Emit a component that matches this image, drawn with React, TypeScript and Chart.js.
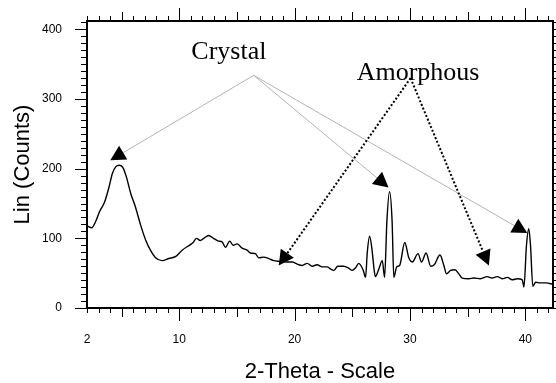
import React, { useEffect, useRef } from "react";
import { Chart, registerables } from "chart.js";

Chart.register(...registerables);

// ---- data (2-Theta in degrees, intensity in counts) ----
const twoTheta = [
  2.0, 2.4, 2.8, 3.1, 3.5, 3.9, 4.2, 4.5, 4.8, 5.1, 5.4, 5.8, 6.2, 6.65, 7.1, 7.5, 7.95, 8.5, 9.1, 9.7,
  10.25, 10.96, 11.2, 11.48, 11.83, 12.12, 12.55, 12.98, 13.42, 13.71, 14.0, 14.37, 14.67, 15.01, 15.45,
  15.88, 16.17, 16.6, 16.89, 17.32, 17.76, 18.19, 18.7, 19.3, 19.79, 20.22, 20.65, 21.09, 21.52, 21.95,
  22.39, 22.82, 23.11, 23.4, 23.74, 24.26, 24.7, 24.99, 25.3, 25.56, 25.95, 26.15, 26.3, 26.5, 26.7, 26.9,
  27.0, 27.3, 27.6, 27.8, 28.0, 28.23, 28.45, 28.6, 28.85, 29.1, 29.55, 29.9, 30.2, 30.7, 31.0, 31.4, 31.8,
  32.1, 32.6, 32.94, 33.17, 33.52, 33.9, 34.24, 34.53, 35.1, 35.54, 36.1, 36.7, 37.1, 37.57, 38.0, 38.44,
  38.87, 39.31, 39.74, 39.88, 40.1, 40.3, 40.45, 40.65, 40.9, 41.3, 41.8, 42.4,
];
const counts = [
  118, 115, 126, 139, 151, 173, 193, 203, 205, 202, 189, 164, 145, 119, 97, 83, 72, 68, 71, 74,
  83, 91, 94, 100, 97, 100, 104, 100, 96, 95, 87, 96, 90, 92, 86,
  83, 79, 78, 72, 73, 71, 68, 67, 66, 66, 63, 61, 64, 60, 62,
  59, 59, 56, 54, 60, 60, 57, 54, 58, 64, 54, 44, 80, 103, 85, 54,
  45, 56, 68, 44, 125, 167, 125, 44, 59, 61, 94, 72, 66, 78, 66, 79, 60,
  62, 76, 61, 49, 54, 55, 49, 43, 42, 43, 42, 45, 43, 45, 42, 44,
  40.5, 42, 40.5, 30, 90, 114, 90, 31, 37, 36, 36, 34,
];

const xTickValues = [2, 10, 20, 30, 40];
const yTickValues = [0, 100, 200, 300, 400];
const X_MIN = 2;
const X_MAX = 42.4;
const Y_MIN = 0;
const Y_MAX = 412;

// ---- annotations (data coordinates) ----
const crystalText = "Crystal";
const crystalTextPos = [14.3, 358];
const crystalApex = [16.45, 334];
const crystalTipsX = [4.02, 28.14, 40.17];
const crystalTipsY = [212, 173, 107.5];

const amorphousText = "Amorphous";
const amorphousTextPos = [30.7, 327];
const amorphousApex = [30.05, 330];
const amorphousTipsX = [18.62, 36.84];
const amorphousTipsY = [61, 61];

const SANS = "'Liberation Sans', Arial, sans-serif";
const SERIF = "'Liberation Serif', 'Times New Roman', serif";

function drawArrow(
  ctx: CanvasRenderingContext2D,
  x0: number, y0: number, x1: number, y1: number,
  color: string, width: number, dash: number[]
) {
  const ang = Math.atan2(y1 - y0, x1 - x0);
  const L = 15, W = 8;
  const c = Math.cos(ang), s = Math.sin(ang);
  const bx = x1 - L * c, by = y1 - L * s;
  ctx.save();
  ctx.strokeStyle = color;
  ctx.lineWidth = width;
  ctx.setLineDash(dash);
  ctx.beginPath();
  ctx.moveTo(x0, y0);
  ctx.lineTo(bx, by);
  ctx.stroke();
  ctx.setLineDash([]);
  ctx.fillStyle = "#000";
  ctx.beginPath();
  ctx.moveTo(x1, y1);
  ctx.lineTo(bx - W * s, by + W * c);
  ctx.lineTo(bx + W * s, by - W * c);
  ctx.closePath();
  ctx.fill();
  ctx.restore();
}

const decorPlugin = {
  id: "decor",
  afterDatasetsDraw(chart: any) {
    const { ctx, chartArea: a, scales } = chart;
    const x = scales.x, y = scales.y;
    ctx.save();
    // tick marks
    ctx.strokeStyle = "#000";
    ctx.lineWidth = 1;
    ctx.beginPath();
    for (let v = 2; v <= 42; v++) {
      const px = Math.round(x.getPixelForValue(v)) + 0.5;
      const len = v % 10 === 0 ? 13 : v % 5 === 0 ? 9 : 5;
      ctx.moveTo(px, a.bottom);
      ctx.lineTo(px, a.bottom + len);
      ctx.moveTo(px, a.top);
      ctx.lineTo(px, a.top - len);
    }
    for (let v = 0; v <= 410; v += 10) {
      const py = Math.round(y.getPixelForValue(v)) + 0.5;
      const len = v % 100 === 0 ? 12 : 6;
      ctx.moveTo(a.left - len, py);
      ctx.lineTo(a.left, py);
      ctx.moveTo(a.right, py);
      ctx.lineTo(a.right + 3, py);
    }
    ctx.stroke();
    // frame
    ctx.lineWidth = 2;
    ctx.strokeRect(a.left, a.top, a.right - a.left, a.bottom - a.top);

    // Crystal annotation
    const cax = x.getPixelForValue(crystalApex[0]);
    const cay = y.getPixelForValue(crystalApex[1]);
    crystalTipsX.forEach((tx, i) => {
      drawArrow(ctx, cax, cay, x.getPixelForValue(tx), y.getPixelForValue(crystalTipsY[i]), "#b4b4b4", 1, []);
    });
    // Amorphous annotation
    const aax = x.getPixelForValue(amorphousApex[0]);
    const aay = y.getPixelForValue(amorphousApex[1]);
    amorphousTipsX.forEach((tx, i) => {
      drawArrow(ctx, aax, aay, x.getPixelForValue(tx), y.getPixelForValue(amorphousTipsY[i]), "#000", 2, [2, 2]);
    });

    ctx.fillStyle = "#000";
    ctx.font = `26px ${SERIF}`;
    ctx.textAlign = "center";
    ctx.textBaseline = "alphabetic";
    ctx.fillText(crystalText, x.getPixelForValue(crystalTextPos[0]), y.getPixelForValue(crystalTextPos[1]));
    ctx.fillText(amorphousText, x.getPixelForValue(amorphousTextPos[0]), y.getPixelForValue(amorphousTextPos[1]));
    ctx.restore();
  },
};

export default function App() {
  const ref = useRef<HTMLCanvasElement | null>(null);
  useEffect(() => {
    if (!ref.current) return;
    const points = twoTheta.map((t, i) => ({ x: t, y: counts[i] }));
    const chart = new Chart(ref.current, {
      type: "line",
      data: {
        datasets: [
          {
            label: "XRD",
            data: points,
            borderColor: "#000",
            borderWidth: 1.4,
            pointRadius: 0,
            cubicInterpolationMode: "monotone",
            fill: false,
          },
        ],
      },
      options: {
        animation: false,
        responsive: false,
        layout: { padding: { top: 21, right: 3, left: 0, bottom: 0 } },
        plugins: { legend: { display: false }, tooltip: { enabled: false } },
        scales: {
          x: {
            type: "linear",
            min: X_MIN,
            max: X_MAX,
            afterBuildTicks: (s: any) => {
              s.ticks = xTickValues.map((v) => ({ value: v }));
            },
            afterFit: (s: any) => {
              s.height = 75;
              s.paddingLeft = 0;
              s.paddingRight = 0;
            },
            grid: { display: false, drawTicks: false },
            border: { display: false },
            ticks: {
              padding: 24,
              color: "#000",
              font: { family: SANS, size: 12 },
              maxRotation: 0,
              autoSkip: false,
            },
            title: {
              display: true,
              text: "2-Theta - Scale",
              color: "#000",
              font: { family: SANS, size: 22, lineHeight: 1 },
              padding: { top: 0, bottom: 0 },
            },
          },
          y: {
            type: "linear",
            min: Y_MIN,
            max: Y_MAX,
            afterBuildTicks: (s: any) => {
              s.ticks = yTickValues.map((v) => ({ value: v }));
            },
            afterFit: (s: any) => {
              s.width = 87;
              s.paddingTop = 0;
              s.paddingBottom = 0;
            },
            grid: { display: false, drawTicks: false },
            border: { display: false },
            ticks: {
              padding: 25,
              color: "#000",
              font: { family: SANS, size: 12 },
              autoSkip: false,
            },
            title: {
              display: true,
              text: "Lin (Counts)",
              color: "#000",
              font: { family: SANS, size: 22, lineHeight: 1 },
              padding: { top: 12, bottom: 0 },
            },
          },
        },
      },
      plugins: [decorPlugin],
    });
    return () => chart.destroy();
  }, []);
  return (
    <div style={{ position: "absolute", left: 0, top: 0, width: 556, height: 383 }}>
      <canvas ref={ref} width={556} height={383} style={{ display: "block" }} />
    </div>
  );
}
